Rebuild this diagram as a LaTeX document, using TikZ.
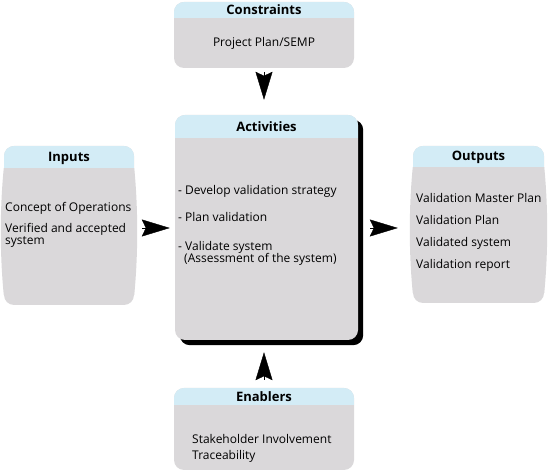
\documentclass[tikz,border=0pt]{standalone}
\usepackage{fontspec}
\setmainfont{Open Sans}
\usetikzlibrary{positioning,arrows.meta,backgrounds}
\definecolor{headblue}{HTML}{D3ECF6}
\definecolor{bodygray}{HTML}{DAD8DA}

\begin{document}
\begin{tikzpicture}[x=1pt, y=1pt,
    every node/.style={font=\fontsize{12}{12.5}\selectfont},
    panel/.style={fill=bodygray, rounded corners=10pt, inner sep=0pt,
      path picture={\fill[headblue, sharp corners] (path picture bounding box.north west) rectangle ([yshift=-#1]path picture bounding box.north east);}},
    head/.style={font=\fontsize{13}{15}\selectfont\bfseries, anchor=base},
    body/.style={align=left, inner sep=0pt, anchor=north west},
    tip/.style={-{Stealth[length=28pt,width=17pt,inset=4pt]}}]
    \useasboundingbox (0,0) rectangle (548,473);

    % boxes
    \node (constraints) [panel=16pt, minimum width=180pt, minimum height=66pt] at (264,438) {};
    \node (activities) [panel=23pt, minimum width=183pt, minimum height=225pt] at (266.5,245.5) {};
    \node (inputs) [panel=22pt, minimum width=130pt, minimum height=159pt] at (69,247.5) {};
    \node (outputs) [panel=21pt, minimum width=131pt, minimum height=157pt] at (478.5,248.5) {};
    \node (enablers) [panel=17pt, minimum width=180pt, minimum height=82pt] at (264,44) {};

    \begin{scope}[on background layer]
      \fill[black, rounded corners=10pt] ([shift={(5pt,-5pt)}]activities.south west) rectangle ([shift={(5pt,-5pt)}]activities.north east);
    \end{scope}

    % barrel sides
    \fill[bodygray] ([yshift=-22pt]inputs.north west) .. controls +(-4pt,-40pt) and +(-4pt,40pt) .. ([yshift=10pt]inputs.south west) -- cycle;
    \fill[bodygray] ([yshift=-22pt]inputs.north east) .. controls +(4pt,-40pt) and +(4pt,40pt) .. ([yshift=10pt]inputs.south east) -- cycle;
    \fill[bodygray] ([yshift=-21pt]outputs.north west) .. controls +(-4pt,-40pt) and +(-4pt,40pt) .. ([yshift=10pt]outputs.south west) -- cycle;
    \fill[bodygray] ([yshift=-21pt]outputs.north east) .. controls +(4pt,-40pt) and +(4pt,40pt) .. ([yshift=10pt]outputs.south east) -- cycle;

    % titles
    \node (ctitle) [head] at ([yshift=-12.5pt]constraints.north) {Constraints};
    \node (atitle) [head] at ([yshift=-16.5pt]activities.north) {Activities};
    \node (ititle) [head] at ([yshift=-15.5pt]inputs.north) {Inputs};
    \node (otitle) [head] at ([yshift=-14.5pt]outputs.north) {Outputs};
    \node (etitle) [head] at ([yshift=-13.5pt]enablers.north) {Enablers};

    % contents
    \node (plan) at (264,430) {Project Plan/SEMP};
    \node (steps) [body] at (178,288) {- Develop validation strategy\\[14.5pt]
      - Plan validation\\[16.5pt]
      - Validate system\\
      \hspace*{6pt}(Assessment of the system)};
    \node (inlist) [body] at (5,271) {Concept of Operations\\[8.5pt]
      Verified and accepted\\
      system};
    \node (outlist) [body] at (416,280) {Validation Master Plan\\[9.5pt]
      Validation Plan\\[9.5pt]
      Validated system\\[9.5pt]
      Validation report};
    \node (enablist) [body] at (192,39) {Stakeholder Involvement\\[3.5pt]
      Traceability};

    % arrows
    \draw[tip, shorten <=4pt, shorten >=15pt] (constraints.south) -- (constraints.south |- activities.north);
    \draw[tip, shorten <=8pt, shorten >=12pt] (enablers.north) -- (enablers.north |- activities.south);
    \draw[tip, shorten <=8pt, shorten >=5pt] ([yshift=-2.5pt]inputs.east) -- ([yshift=-2.5pt]inputs.east -| activities.west);
    \draw[tip, shorten <=12pt, shorten >=15pt] ([yshift=-0.5pt]activities.east) -- ([yshift=-0.5pt]activities.east -| outputs.west);
  \end{tikzpicture}
\end{document}
